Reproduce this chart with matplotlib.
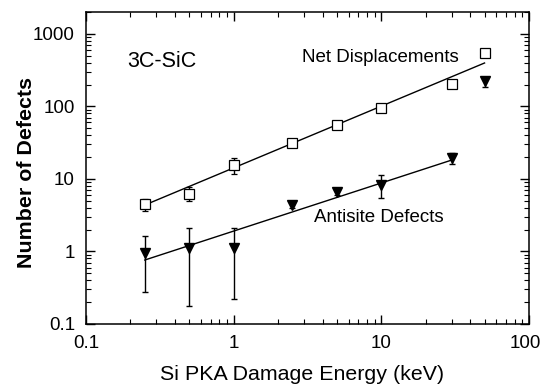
import numpy as np
import matplotlib
matplotlib.use('Agg')
import matplotlib.pyplot as plt
import matplotlib.transforms as mtransforms
from matplotlib.ticker import LogLocator, FixedLocator, FixedFormatter, NullFormatter

plt.rcParams['font.family'] = ['Liberation Sans', 'DejaVu Sans']

# damage energy (keV)
energy = [0.25, 0.5, 1.0, 2.5, 5.0, 10.0, 30.0, 50.0]

# net displacements (open squares) with lower / upper error bar ends
net = [4.5, 6.2, 15.6, 31.4, 55.6, 95.0, 204.0, 547.0]
net_lo = [3.6, 5.0, 11.7, 27.6, 52.0, 90.0, 204.0, 547.0]
net_hi = [5.3, 7.8, 19.5, 35.6, 59.0, 100.0, 204.0, 547.0]

# antisite defects (filled down triangles)
anti = [0.95, 1.12, 1.12, 4.38, 6.6, 8.3, 19.5, 225.0]
anti_lo = [0.276, 0.177, 0.22, 4.0, 6.0, 5.5, 16.1, 186.0]
anti_hi = [1.64, 2.11, 2.11, 4.8, 7.2, 11.3, 22.9, 255.0]

# power-law fits N = A * E^n  (A, n, Emin, Emax)
net_fit = (14.2, 0.851, 0.25, 50.0)
anti_fit = (1.91, 0.663, 0.25, 30.0)

fig = plt.figure(figsize=(5.43, 3.90), dpi=100)
ax = fig.add_axes([86 / 543, 1 - 324 / 390, (529 - 86) / 543, (324 - 12) / 390])

for A, n, e0, e1 in (net_fit, anti_fit):
    ee = np.logspace(np.log10(e0), np.log10(e1), 50)
    ax.plot(ee, A * ee ** n, color='black', lw=1.0, zorder=2)

net = np.array(net)
anti = np.array(anti)
ax.errorbar(energy, net, yerr=[net - np.array(net_lo), np.array(net_hi) - net],
            fmt='s', ms=6.5, mfc='white', mec='black', mew=0.9, ecolor='black',
            elinewidth=1.0, capsize=2.5, capthick=1.0, zorder=3)
ax.errorbar(energy, anti, yerr=[anti - np.array(anti_lo), np.array(anti_hi) - anti],
            fmt='v', ms=7.5, mfc='black', mec='black', ecolor='black',
            elinewidth=1.0, capsize=2.5, capthick=1.0, zorder=3)

ax.set_xscale('log')
ax.set_yscale('log')
ax.set_xlim(0.1, 100)
ax.set_ylim(0.1, 2000)

xt = [0.1, 1, 10, 100]
yt = [0.1, 1, 10, 100, 1000]
ax.xaxis.set_major_locator(FixedLocator(xt))
ax.xaxis.set_major_formatter(FixedFormatter(['0.1', '1', '10', '100']))
ax.yaxis.set_major_locator(FixedLocator(yt))
ax.yaxis.set_major_formatter(FixedFormatter(['0.1', '1', '10', '100', '1000']))
ax.xaxis.set_minor_locator(LogLocator(base=10, subs=np.arange(2, 10), numticks=20))
ax.yaxis.set_minor_locator(LogLocator(base=10, subs=np.arange(2, 10), numticks=20))
ax.xaxis.set_minor_formatter(NullFormatter())
ax.yaxis.set_minor_formatter(NullFormatter())

ax.tick_params(which='both', direction='in', top=True, right=True, labelsize=13.5)
ax.tick_params(which='major', length=6.5, width=1.0)
ax.tick_params(which='minor', length=3.5, width=0.8)
ax.tick_params(axis='x', which='major', pad=8)
ax.tick_params(axis='y', which='major', pad=8)
for s in ax.spines.values():
    s.set_linewidth(1.1)

# nudge the last x tick label so it stays inside the figure
last = ax.xaxis.get_majorticklabels()[-1]
last.set_transform(last.get_transform() +
                   mtransforms.ScaledTranslation(-4 / 100, 0, fig.dpi_scale_trans))

ax.text(0.19, 411, '3C-SiC', fontsize=15.5, ha='left', va='center')
ax.text(2.88, 467, 'Net Displacements', fontsize=13.5, ha='left', va='center')
ax.text(3.48, 2.9, 'Antisite Defects', fontsize=13.5, ha='left', va='center')

ax.set_xlabel('Si PKA Damage Energy (keV)', fontsize=15.4, labelpad=8)
ax.set_ylabel('Number of Defects', fontsize=15.4, fontweight='bold')
ax.yaxis.set_label_coords(-0.113, 0.484)
ax.xaxis.set_label_coords(0.487, -0.13)

fig.savefig('out.png', dpi=100)
